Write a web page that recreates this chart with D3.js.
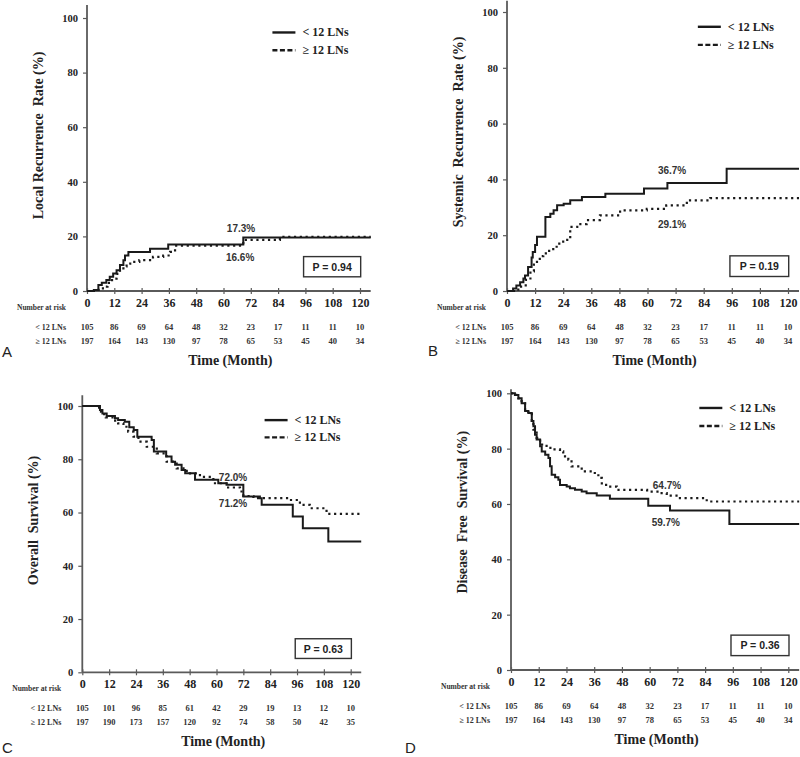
<!DOCTYPE html>
<html><head><meta charset="utf-8">
<script src="https://cdn.jsdelivr.net/npm/d3@7"></script>
<style>body{margin:0;background:#fff} svg text{white-space:pre}</style>
</head><body><svg id="c" width="800" height="757"></svg>
<script>
// ---------- data ----------
const timeTicks = [0, 12, 24, 36, 48, 60, 72, 84, 96, 108, 120];
const yTicks = [0, 20, 40, 60, 80, 100];
const groupLabels = ["< 12 LNs", "\u2265 12 LNs"];
const riskHeader = "Number at risk";
const xTitle = "Time (Month)";

// Panel A: local recurrence (step points: month, %)
const aLessT = [0, 3, 5, 6.5, 8.5, 10, 11.5, 13, 14.5, 16, 16.7, 18.2, 27.7, 35.7, 68.7];
const aLessV = [0, 0.4, 2.2, 3, 4, 5.2, 6.4, 7.6, 9.5, 11.3, 13, 14.3, 15.5, 17, 19.6];
const aMoreT = [0, 4, 7, 9, 11, 13, 14.5, 16, 17.4, 19, 23, 29, 33.5, 36.5, 38.7, 68.7, 84.8];
const aMoreV = [0, 0.4, 1.6, 3, 4.5, 6.3, 7.6, 9, 10, 10.7, 11.3, 12.5, 13, 14.3, 16.6, 18.7, 19.8];

// Panel B: systemic recurrence
const bLessT = [0, 2.6, 4, 5.6, 7, 7.7, 9, 10.5, 11, 12, 12.8, 16.4, 18.5, 19.9, 21.4, 24.2, 27, 32, 42, 58.5, 68.5, 93.8];
const bLessV = [0, 0.9, 2, 3.1, 4.5, 5.6, 8.6, 12, 14, 16.5, 19.4, 26.5, 27.7, 28.9, 30.7, 31.3, 32.5, 33.7, 34.9, 36.7, 38.7, 43.8];
const bMoreT = [0, 3, 6, 8, 10, 11.5, 12.8, 14, 15.5, 18, 21.2, 24, 27, 30, 34, 39.7, 48.3, 59.7, 68, 76.8, 86.8];
const bMoreV = [0, 0.5, 2, 4, 7, 9.5, 11.5, 12.5, 13.5, 15, 17, 18.3, 23, 24, 25.4, 27.1, 28.9, 29.4, 30.7, 32.5, 33.3];

// Panel C: overall survival
const cLessT = [0, 7.9, 9, 10.9, 14.6, 16, 19, 21, 23, 24.6, 31, 32, 37.5, 39.9, 41.5, 44.4, 46, 50.4, 60.8, 64.5, 72, 79.4, 80.2, 94.1, 98.6, 110];
const cLessV = [100, 98.5, 97.2, 96.2, 95.4, 94.7, 94.1, 92, 91, 88.5, 87.2, 82.9, 81, 79.1, 77.9, 76, 74.7, 72.3, 71, 70.4, 66, 65.4, 62.9, 58.5, 54.1, 49.1];
const cMoreT = [0, 7.5, 8.5, 10.5, 13.5, 16, 18.4, 20.5, 22.9, 25.1, 28.8, 33.3, 37.7, 42.2, 46.7, 52.6, 58.6, 64.5, 70.5, 72, 76.5, 92.8, 97.3, 101.7, 109.2];
const cMoreV = [100, 97.9, 96.9, 95.7, 94.5, 93.5, 92.2, 90.4, 88.5, 86.6, 84.7, 82.2, 79.1, 76.6, 74.7, 73.4, 71, 69.4, 67.9, 66.2, 65.4, 64.7, 62.9, 61.6, 59.5];

// Panel D: disease free survival
const dLessT = [0, 1.7, 3.2, 4.6, 6.1, 7.5, 9, 9.7, 10.4, 11.1, 12.6, 13.3, 14.8, 16.2, 16.9, 17.6, 19.1, 20.5, 21.2, 24.1, 25.5, 27.7, 30.6, 32.7, 37.1, 42.8, 59.4, 68.8, 94.5];
const dLessV = [100, 99.4, 98.2, 96.4, 93.6, 92.9, 90, 88.1, 85, 83.3, 80.9, 79, 77.8, 76.6, 73.6, 70.6, 69.7, 68.8, 66.9, 66.3, 65.7, 65.1, 64.5, 63.9, 63.1, 61.9, 59.4, 57.6, 52.8];
const dMoreT = [0, 1.7, 3.2, 4.6, 6.1, 7.5, 9, 9.7, 11.1, 12.6, 15.4, 18.3, 21.2, 22.6, 24.8, 26.2, 30.6, 35.6, 37.8, 39.3, 42.2, 45.8, 58.9, 64.5, 67.4, 73.1, 84.7];
const dMoreV = [100, 99.4, 98.2, 96.4, 94, 92.5, 90, 86.9, 83.9, 81.5, 80.3, 79.7, 79, 77.2, 76, 73.6, 71.8, 71.2, 69.4, 66.9, 66.3, 65.1, 64.5, 63.9, 63, 62.1, 60.9];

// Number at risk
const riskLessABD = [105, 86, 69, 64, 48, 32, 23, 17, 11, 11, 10];
const riskMoreABD = [197, 164, 143, 130, 97, 78, 65, 53, 45, 40, 34];
const riskLessC = [105, 101, 96, 85, 61, 42, 29, 19, 13, 12, 10];
const riskMoreC = [197, 190, 173, 157, 120, 92, 74, 58, 50, 42, 35];

const yTitles = ["Local Recurrence  Rate (%)", "Systemic  Recurrence  Rate (%)", "Overall  Survival (%)", "Disease  Free  Survival (%)"];
const pValues = ["P = 0.94", "P = 0.19", "P = 0.63", "P = 0.36"];
const annUpper = ["17.3%", "36.7%", "72.0%", "64.7%"];
const annLower = ["16.6%", "29.1%", "71.2%", "59.7%"];
const letters = ["A", "B", "C", "D"];

// ---------- layout ----------
const panels = [
  {x0: 87, x120: 360, y0: 291, y100: 18, yTop: 104.8, less: [aLessT, aLessV], more: [aMoreT, aMoreV], risk: [riskLessABD, riskMoreABD],
   annTop: [67.7, 23], annBot: [67.3, 12.5], letter: [2, 357]},
  {x0: 507, x120: 788, y0: 291, y100: 12, yTop: 104, less: [bLessT, bLessV], more: [bMoreT, bMoreV], risk: [riskLessABD, riskMoreABD],
   annTop: [70.5, 43.4], annBot: [70.5, 24], letter: [428, 356]},
  {x0: 82.3, x120: 350.7, y0: 672.3, y100: 406, yTop: 104, less: [cLessT, cLessV], more: [cMoreT, cMoreV], risk: [riskLessC, riskMoreC],
   annTop: [67.4, 73.4], annBot: [67.4, 63.6], letter: [2, 753]},
  {x0: 511, x120: 788.3, y0: 670, y100: 393.3, yTop: 101.5, less: [dLessT, dLessV], more: [dMoreT, dMoreV], risk: [riskLessABD, riskMoreABD],
   annTop: [67.5, 66.9], annBot: [67, 53.6], letter: [405, 753]}
];

const SERIF = "'Liberation Serif','Times New Roman',serif";
const SANS = "'Liberation Sans',Arial,sans-serif";
const AXIS = "#5a5a5a";
const INK = "#1a1a1a";
const END = 124.7;

const svg = d3.select("#c");

panels.forEach((p, i) => {
  const x = d3.scaleLinear().domain([0, 120]).range([p.x0, p.x120]);
  const y = d3.scaleLinear().domain([0, 100]).range([p.y0, p.y100]);
  const g = svg.append("g");

  // y axis
  g.append("line").attr("x1", x(0)).attr("x2", x(0)).attr("y1", y(0)).attr("y2", y(p.yTop))
    .attr("stroke", AXIS).attr("stroke-width", 1.8);
  const yAx = g.append("g").attr("transform", `translate(${x(0)},0)`)
    .call(d3.axisLeft(y).tickValues(yTicks).tickSize(4).tickPadding(5).tickSizeOuter(0));
  yAx.select(".domain").remove();
  yAx.selectAll("line").attr("stroke", AXIS).attr("stroke-width", 1.2);
  yAx.selectAll("text").attr("font-family", SERIF).attr("font-weight", "bold").attr("font-size", 10.5).attr("fill", "#222");

  // x axis
  g.append("line").attr("x1", x(0)).attr("x2", x(END)).attr("y1", y(0)).attr("y2", y(0))
    .attr("stroke", AXIS).attr("stroke-width", 1.8);
  const xAx = g.append("g").attr("transform", `translate(0,${y(0) + 3})`)
    .call(d3.axisBottom(x).tickValues(timeTicks).tickSize(-6).tickPadding(0).tickSizeOuter(0));
  xAx.select(".domain").remove();
  xAx.selectAll("line").attr("stroke", AXIS).attr("stroke-width", 1.2);
  xAx.selectAll("text").attr("y", 13).attr("dy", 0).attr("font-family", SERIF).attr("font-weight", "bold")
    .attr("font-size", 12).attr("fill", "#222");

  // curves
  const line = d3.line().x(d => x(d[0])).y(d => y(d[1])).curve(d3.curveStepAfter);
  const toPts = (s) => { const pts = s[0].map((t, k) => [t, s[1][k]]); pts.push([END, s[1][s[1].length - 1]]); return pts; };
  g.append("path").attr("d", line(toPts(p.more))).attr("fill", "none").attr("stroke", INK)
    .attr("stroke-width", 2.2).attr("stroke-dasharray", "2.2,3.6");
  g.append("path").attr("d", line(toPts(p.less))).attr("fill", "none").attr("stroke", INK)
    .attr("stroke-width", 2);

  // legend
  const lx = x(81.5);
  [[94.7, null], [88.2, "5,2.5"]].forEach((r, k) => {
    const ly = y(r[0]);
    const ln = g.append("line").attr("x1", lx).attr("x2", lx + 23).attr("y1", ly).attr("y2", ly)
      .attr("stroke", INK).attr("stroke-width", 2.4);
    if (r[1]) ln.attr("stroke-dasharray", r[1]);
    g.append("text").attr("x", lx + 30).attr("y", ly + 4).text(groupLabels[k])
      .attr("font-family", SERIF).attr("font-weight", "bold").attr("font-size", 12).attr("fill", "#222");
  });

  // annotations
  [[p.annTop, annUpper[i]], [p.annBot, annLower[i]]].forEach(a => {
    g.append("text").attr("x", x(a[0][0])).attr("y", y(a[0][1]) + 4).attr("text-anchor", "middle").text(a[1])
      .attr("font-family", SANS).attr("font-weight", "bold").attr("font-size", 10).attr("fill", "#333");
  });

  // P box
  const bx0 = x(95.2), bx1 = x(120.3), by0 = y(12.6), by1 = y(5.2);
  g.append("rect").attr("x", bx0).attr("y", by0).attr("width", bx1 - bx0).attr("height", by1 - by0)
    .attr("fill", "#fff").attr("stroke", "#333").attr("stroke-width", 1.4);
  g.append("text").attr("x", (bx0 + bx1) / 2).attr("y", (by0 + by1) / 2 + 4).attr("text-anchor", "middle")
    .text(pValues[i]).attr("font-family", SANS).attr("font-weight", "bold").attr("font-size", 10.5).attr("fill", "#222");

  // y title
  const tx = x(0) - 44, ty = y(57);
  g.append("text").attr("transform", `translate(${tx},${ty}) rotate(-90)`).attr("text-anchor", "middle")
    .text(yTitles[i]).attr("font-family", SERIF).attr("font-weight", "bold").attr("font-size", 14).attr("fill", "#222");

  // risk table
  const rx = x(0) - 21;
  g.append("text").attr("x", rx).attr("y", y(0) + 19).attr("text-anchor", "end").text(riskHeader)
    .attr("font-family", SERIF).attr("font-weight", "bold").attr("font-size", 7.5).attr("fill", "#333");
  [0, 1].forEach(k => {
    const ry = y(0) + 39 + k * 14;
    g.append("text").attr("x", rx).attr("y", ry).attr("text-anchor", "end").text(groupLabels[k])
      .attr("font-family", SERIF).attr("font-weight", "bold").attr("font-size", 8).attr("fill", "#333");
    g.selectAll(null).data(p.risk[k]).enter().append("text")
      .attr("x", (d, j) => x(timeTicks[j])).attr("y", ry).attr("text-anchor", "middle").text(d => d)
      .attr("font-family", SERIF).attr("font-weight", "bold").attr("font-size", 8.5).attr("fill", "#333");
  });

  // x title
  g.append("text").attr("x", x(63)).attr("y", y(0) + 74).attr("text-anchor", "middle").text(xTitle)
    .attr("font-family", SERIF).attr("font-weight", "bold").attr("font-size", 14).attr("fill", "#222");

  // panel letter
  g.append("text").attr("x", p.letter[0]).attr("y", p.letter[1]).text(letters[i])
    .attr("font-family", SANS).attr("font-size", 15).attr("fill", "#222");
});
</script></body></html>
